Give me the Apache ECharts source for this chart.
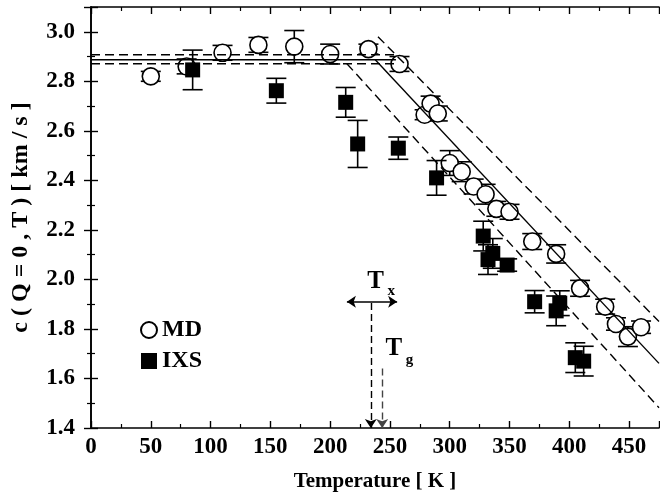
<!DOCTYPE html>
<html>
<head>
<meta charset="utf-8">
<script src="https://cdn.jsdelivr.net/npm/echarts@6/dist/echarts.min.js"></script>
<style>html,body{margin:0;padding:0;background:#fff}#c{width:660px;height:498px}</style>
</head>
<body>
<div id="c"></div>
<script>
// ---- data ----
const mdT   = [50, 80, 110, 140, 170, 200, 232, 258, 279, 284, 290, 300, 310, 320, 330, 339, 350, 369, 389, 409, 430, 439, 449, 460];
const mdV   = [2.82, 2.86, 2.915, 2.947, 2.94, 2.91, 2.93, 2.87, 2.665, 2.71, 2.67, 2.47, 2.435, 2.375, 2.344, 2.285, 2.273, 2.153, 2.103, 1.964, 1.89, 1.82, 1.769, 1.807];
const mdErr = [0.02, 0.03, 0.03, 0.03, 0.065, 0.04, 0.02, 0.03, 0.02, 0.03, 0.03, 0.05, 0.04, 0.03, 0.04, 0.03, 0.03, 0.032, 0.037, 0.032, 0.03, 0.025, 0.04, 0.025];

const ixsT   = [85, 155, 213, 223, 257, 289, 328, 332, 336, 348, 371, 389, 392, 405, 412];
const ixsV   = [2.846, 2.762, 2.715, 2.547, 2.53, 2.41, 2.175, 2.08, 2.105, 2.058, 1.91, 1.873, 1.904, 1.684, 1.67];
const ixsErr = [0.08, 0.05, 0.06, 0.095, 0.045, 0.07, 0.06, 0.06, 0.06, 0.025, 0.045, 0.06, 0.05, 0.06, 0.06];

// fit lines (data units)
const plateauSolid = [[0, 2.887], [255, 2.887]];
const plateauUpper = [[0, 2.907], [255, 2.907]];
const plateauLower = [[0, 2.871], [255, 2.871]];
const slopeSolid   = [[237.7, 2.887], [475, 1.661]];
const slopeUpper   = [[240, 2.98], [475, 1.830]];
const slopeLower   = [[214, 2.871], [475, 1.482]];

// characteristic temperatures
const Tx = 234, Tg = 243.5;
const TxArrowRange = [214, 256];

const xTicks = { min: 0, max: 475, interval: 50 };
const yTicks = { min: 1.4, max: 3.1, interval: 0.2 };

// ---- chart ----
const FONT = '"Liberation Serif", "Times New Roman", serif';
const zip3 = (a, b, c) => a.map((t, i) => [t, b[i], c[i]]);
const zip2 = (a, b) => a.map((t, i) => [t, b[i]]);

function errRender(params, api) {
  const x = api.value(0), y = api.value(1), e = api.value(2);
  const p1 = api.coord([x, y + e]);
  const p2 = api.coord([x, y - e]);
  const hw = 10;
  const st = { stroke: '#000', lineWidth: 1.6 };
  return {
    type: 'group',
    children: [
      { type: 'line', shape: { x1: p1[0], y1: p1[1], x2: p2[0], y2: p2[1] }, style: st },
      { type: 'line', shape: { x1: p1[0] - hw, y1: p1[1], x2: p1[0] + hw, y2: p1[1] }, style: st },
      { type: 'line', shape: { x1: p2[0] - hw, y1: p2[1], x2: p2[0] + hw, y2: p2[1] }, style: st }
    ]
  };
}

const annPos  = [[238, 1.99], [251, 1.951], [253.2, 1.722], [266.3, 1.675]];
const annText = ['T', 'x', 'T', 'g'];
const annSize = [25, 15, 25, 15];
function textRender(params, api) {
  const p = api.coord([api.value(0), api.value(1)]);
  return {
    type: 'text', x: p[0], y: p[1],
    style: { text: annText[params.dataIndex], font: 'bold ' + annSize[params.dataIndex] + 'px ' + FONT,
             fill: '#000', align: 'center', verticalAlign: 'middle' }
  };
}

const lineSeries = (data, dashed) => ({
  type: 'line', data, symbol: 'none', silent: true, z: 5,
  lineStyle: { color: '#000', width: 1.4, type: dashed ? [9, 5] : 'solid' }
});

const arrowSeries = (from, to, symbols, color, type, width) => ({
  type: 'line', data: [], silent: true, z: 6,
  markLine: {
    silent: true, animation: false, label: { show: false },
    symbol: symbols, symbolSize: 9,
    lineStyle: { color, width, type },
    emphasis: { disabled: true },
    data: [[{ coord: from }, { coord: to }]]
  }
});

const axisCommon = {
  axisLine: { show: true, lineStyle: { color: '#000', width: 1.6 } },
  axisTick: { show: true, inside: true, length: 7, lineStyle: { color: '#000', width: 1.4 } },
  minorTick: { show: true, splitNumber: 2, length: 4, lineStyle: { color: '#000', width: 1.2 } },
  splitLine: { show: false },
  minorSplitLine: { show: false }
};

const chart = echarts.init(document.getElementById('c'), null, { renderer: 'canvas' });
chart.setOption({
  animation: false,
  backgroundColor: '#fff',
  grid: { left: 91, right: 1, top: 7, bottom: 70 },
  legend: {
    orient: 'vertical', left: 140, top: 318, padding: 0, itemGap: 7,
    itemWidth: 16, itemHeight: 16,
    textStyle: { fontFamily: FONT, fontWeight: 'bold', fontSize: 24, color: '#000' },
    data: ['MD', 'IXS']
  },
  xAxis: [
    Object.assign({
      type: 'value', min: xTicks.min, max: xTicks.max, interval: xTicks.interval, position: 'bottom',
      name: 'Temperature [ K ]', nameLocation: 'middle', nameGap: 43,
      nameTextStyle: { fontFamily: FONT, fontWeight: 'bold', fontSize: 21, color: '#000' },
      axisLabel: { fontFamily: FONT, fontWeight: 'bold', fontSize: 23, color: '#000', margin: 8, showMaxLabel: false }
    }, axisCommon),
    Object.assign({
      type: 'value', min: xTicks.min, max: xTicks.max, interval: xTicks.interval, position: 'top',
      axisLabel: { show: false }
    }, axisCommon)
  ],
  yAxis: [
    Object.assign({
      type: 'value', min: yTicks.min, max: yTicks.max, interval: yTicks.interval, position: 'left',
      name: 'c ( Q = 0 , T ) [ km / s ]', nameLocation: 'middle', nameGap: 58, nameRotate: 90,
      nameTextStyle: { fontFamily: FONT, fontWeight: 'bold', fontSize: 24, color: '#000' },
      axisLabel: { fontFamily: FONT, fontWeight: 'bold', fontSize: 23, color: '#000', margin: 16, showMaxLabel: false,
                   formatter: v => v.toFixed(1) }
    }, axisCommon),
    Object.assign({
      type: 'value', min: yTicks.min, max: yTicks.max, interval: yTicks.interval, position: 'right',
      axisLabel: { show: false }
    }, axisCommon)
  ],
  series: [
    { type: 'custom', name: 'mdErr', renderItem: errRender, data: zip3(mdT, mdV, mdErr), z: 2, silent: true },
    { type: 'scatter', name: 'MD', data: zip2(mdT, mdV), symbol: 'circle', symbolSize: 17, z: 3,
      itemStyle: { color: '#fff', borderColor: '#000', borderWidth: 1.6, opacity: 1 } },
    { type: 'custom', name: 'ixsErr', renderItem: errRender, data: zip3(ixsT, ixsV, ixsErr), z: 4, silent: true },
    { type: 'scatter', name: 'IXS', data: zip2(ixsT, ixsV), symbol: 'rect', symbolSize: 15, z: 4,
      itemStyle: { color: '#000', opacity: 1 } },
    lineSeries(plateauSolid, false), lineSeries(plateauUpper, true), lineSeries(plateauLower, true),
    lineSeries(slopeSolid, false), lineSeries(slopeUpper, true), lineSeries(slopeLower, true),
    arrowSeries([Tx, 1.905], [Tx, yTicks.min], ['none', 'arrow'], '#000', [7, 4], 1.4),
    arrowSeries([Tg, 1.64], [Tg, yTicks.min], ['none', 'arrow'], '#444', [7, 4], 1.4),
    arrowSeries([TxArrowRange[0], 1.91], [TxArrowRange[1], 1.91], ['arrow', 'arrow'], '#000', 'solid', 1.6),
    { type: 'custom', renderItem: textRender, data: annPos, z: 7, silent: true }
  ]
});
</script>
</body>
</html>
